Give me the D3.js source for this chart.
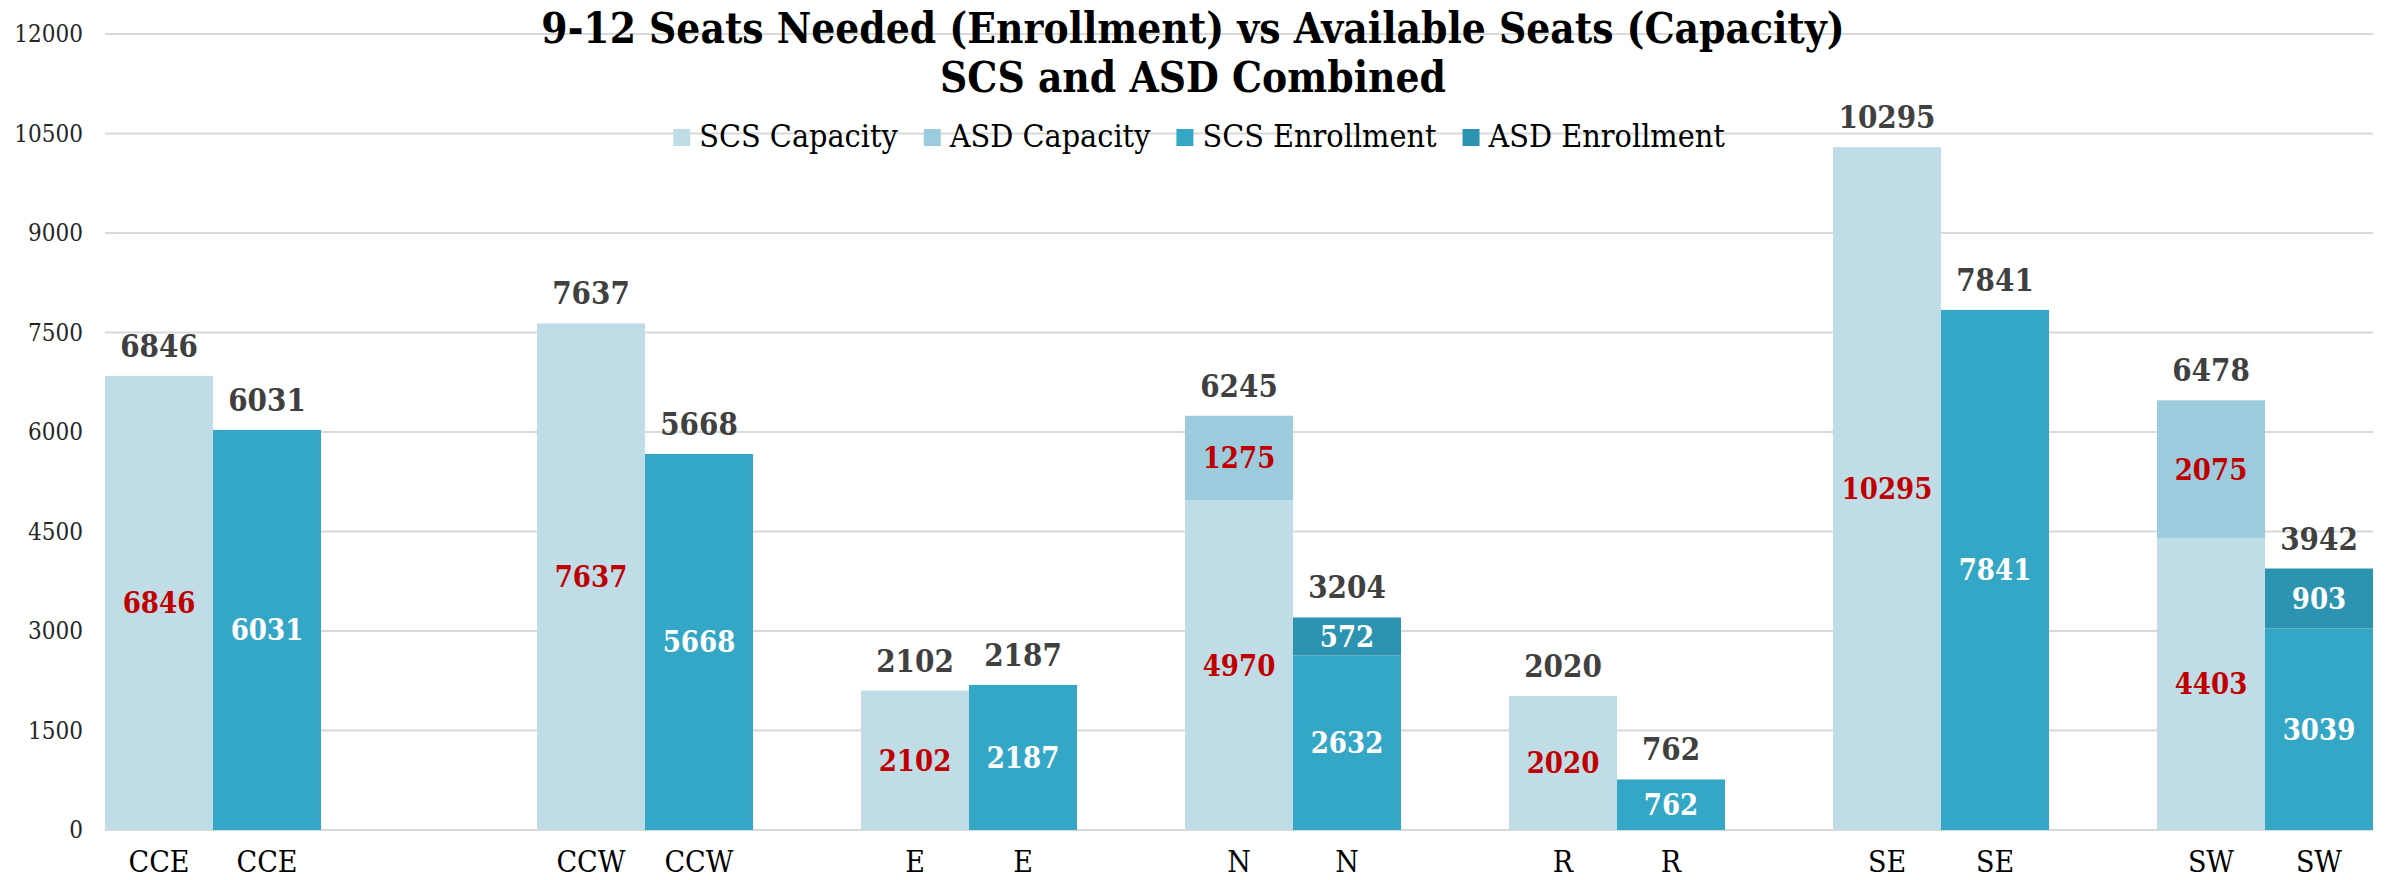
<!DOCTYPE html>
<html>
<head>
<meta charset="utf-8">
<script src="https://cdn.jsdelivr.net/npm/d3@7"></script>
<style>
  body { margin: 0; background: #fff; }
  svg text { font-family: "DejaVu Serif", serif; font-stretch: condensed; }
</style>
</head>
<body>
<div id="chart"></div>
<script>
// data
var groups = ["CCE", "CCW", "E", "N", "R", "SE", "SW"];
var scsCapacity   = [6846, 7637, 2102, 4970, 2020, 10295, 4403];
var asdCapacity   = [0, 0, 0, 1275, 0, 0, 2075];
var scsEnrollment = [6031, 5668, 2187, 2632, 762, 7841, 3039];
var asdEnrollment = [0, 0, 0, 572, 0, 0, 903];
// empty category slots after each group (as in the source sheet)
var blankSlots = [2, 1, 1, 1, 1, 1, 0];
var yTicks = [0, 1500, 3000, 4500, 6000, 7500, 9000, 10500, 12000];
var seriesNames = ["SCS Capacity", "ASD Capacity", "SCS Enrollment", "ASD Enrollment"];
var seriesColors = ["#BFDCE7", "#9DCBDE", "#34A7C6", "#2C94B0"];

var W = 2387, H = 880;
var margin = {top: 34, right: 14, bottom: 50, left: 105};

var svg = d3.select("#chart")
  .append("svg")
    .attr("width", W)
    .attr("height", H);

// build slots: capacity bar, enrollment bar, then blanks
var slots = [];
groups.forEach(function(g, i) {
  slots.push({key: g + "-cap", label: g, kind: "cap",
    segs: [scsCapacity[i], asdCapacity[i]], colors: [seriesColors[0], seriesColors[1]]});
  slots.push({key: g + "-enr", label: g, kind: "enr",
    segs: [scsEnrollment[i], asdEnrollment[i]], colors: [seriesColors[2], seriesColors[3]]});
  for (var b = 0; b < blankSlots[i]; b++) slots.push({key: g + "-blank" + b, label: "", kind: "blank", segs: []});
});

var x = d3.scaleBand()
  .domain(slots.map(function(d) { return d.key; }))
  .range([margin.left, W - margin.right])
  .padding(0);

var y = d3.scaleLinear()
  .domain([0, 12000])
  .range([H - margin.bottom, margin.top]);

// gridlines
svg.append("g")
  .selectAll("line")
  .data(yTicks)
  .enter()
  .append("line")
    .attr("x1", margin.left)
    .attr("x2", W - margin.right)
    .attr("y1", function(d) { return y(d); })
    .attr("y2", function(d) { return y(d); })
    .attr("stroke", "#D9D9D9")
    .attr("stroke-width", 2);

// y axis labels
var yAxis = svg.append("g")
  .attr("transform", "translate(" + (margin.left - 22) + ",0)")
  .call(d3.axisLeft(y).tickValues(yTicks).tickSize(0).tickFormat(d3.format("d")));
yAxis.select(".domain").remove();
yAxis.selectAll("text")
  .attr("x", 0)
  .style("font-family", '"DejaVu Serif", serif')
  .style("font-size", "24px")
  .attr("fill", "#262626");

// title
var title = svg.append("text")
  .attr("x", 1193)
  .attr("text-anchor", "middle")
  .style("font-weight", "bold")
  .style("font-size", "42px")
  .attr("fill", "#000");
title.append("tspan").attr("x", 1193).attr("y", 43).text("9-12 Seats Needed (Enrollment) vs Available Seats (Capacity)");
title.append("tspan").attr("x", 1193).attr("y", 92).text("SCS and ASD Combined");

// bars
var bars = svg.append("g")
  .selectAll("g")
  .data(slots.filter(function(d) { return d.kind != "blank"; }))
  .enter()
  .append("g");

bars.each(function(d) {
  var g = d3.select(this);
  var base = 0;
  d.segs.forEach(function(v, j) {
    if (v > 0) {
      g.append("rect")
        .attr("x", x(d.key))
        .attr("width", x.bandwidth())
        .attr("y", y(base + v))
        .attr("height", y(base) - y(base + v))
        .attr("fill", d.colors[j]);
      g.append("text")
        .attr("x", x(d.key) + x.bandwidth() / 2)
        .attr("y", y(base + v / 2))
        .attr("dy", "0.36em")
        .attr("text-anchor", "middle")
        .style("font-size", "29px")
        .style("font-weight", "bold")
        .attr("fill", d.kind == "cap" ? "#C00000" : "#FFFFFF")
        .text(v);
    }
    base += v;
  });
  // total above the bar
  g.append("text")
    .attr("x", x(d.key) + x.bandwidth() / 2)
    .attr("y", y(base) - 19)
    .attr("text-anchor", "middle")
    .style("font-size", "31px")
    .style("font-weight", "bold")
    .attr("fill", "#404040")
    .text(base);
  // category label
  g.append("text")
    .attr("x", x(d.key) + x.bandwidth() / 2)
    .attr("y", 872)
    .attr("text-anchor", "middle")
    .style("font-size", "30px")
    .attr("fill", "#000")
    .text(d.label);
});

// legend
var legend = svg.append("g");
var lx = 0;
seriesNames.forEach(function(name, i) {
  var item = legend.append("g").attr("transform", "translate(" + lx + ",0)");
  item.append("rect")
    .attr("x", 0).attr("y", 129)
    .attr("width", 17).attr("height", 17)
    .attr("fill", seriesColors[i]);
  var t = item.append("text")
    .attr("x", 26).attr("y", 147)
    .style("font-size", "32px")
    .attr("fill", "#000")
    .text(name);
  lx += 26 + t.node().getComputedTextLength() + 26;
});
lx -= 26;
legend.attr("transform", "translate(" + (1199 - lx / 2) + ",0)");
</script>
</body>
</html>
